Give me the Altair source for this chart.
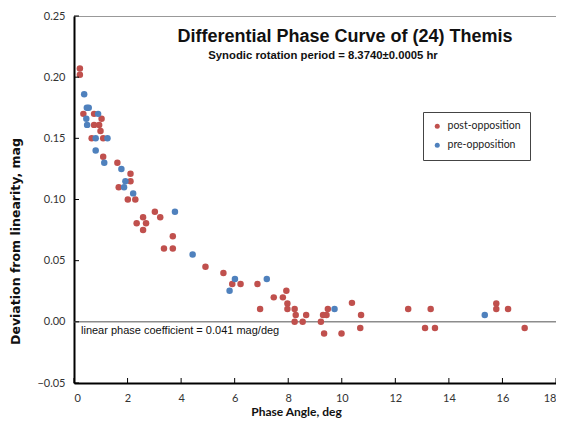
import altair as alt
import pandas as pd

# post-opposition (red)
post_x = [0.22, 0.22, 0.35, 0.75, 1.03, 0.75, 0.94, 0.99, 0.66, 1.09, 1.09, 1.62, 2.11, 2.11,
          1.67, 2.01, 2.29, 3.02, 2.58, 3.22, 2.34, 2.69, 2.58, 3.69, 3.36, 3.69, 4.91, 5.58,
          5.91, 6.22, 6.85, 6.95, 7.46, 7.80, 7.93, 7.97, 7.97, 8.24, 8.28, 8.24, 8.67, 8.54,
          9.22, 9.30, 9.43, 9.48, 9.34, 9.99, 10.38, 10.72, 10.69, 12.48, 13.32, 13.11, 13.48,
          15.77, 15.77, 16.21, 16.83]
post_y = [0.207, 0.202, 0.170, 0.170, 0.166, 0.161, 0.161, 0.156, 0.150, 0.150, 0.135, 0.130, 0.121, 0.115,
          0.110, 0.100, 0.100, 0.090, 0.0855, 0.0855, 0.0805, 0.0805, 0.075, 0.070, 0.060, 0.060, 0.045, 0.040,
          0.031, 0.031, 0.031, 0.0105, 0.020, 0.020, 0.0255, 0.015, 0.0105, 0.0105, 0.0055, 0.000, 0.0055, 0.000,
          0.000, 0.0055, 0.0055, 0.0105, -0.0095, -0.0095, 0.0155, 0.0055, -0.005, 0.0105, 0.0105, -0.005, -0.005,
          0.015, 0.0105, 0.0105, -0.005]

# pre-opposition (blue)
pre_x = [0.38, 0.48, 0.55, 0.90, 0.46, 0.49, 0.81, 1.25, 0.81, 1.13, 1.77, 1.92, 1.87, 2.21,
         3.77, 4.43, 6.01, 5.81, 7.20, 9.73, 15.34]
pre_y = [0.186, 0.175, 0.175, 0.170, 0.166, 0.161, 0.150, 0.150, 0.140, 0.130, 0.125, 0.115, 0.110, 0.105,
         0.090, 0.055, 0.035, 0.0255, 0.035, 0.0105, 0.0055]

series_names = ["post-opposition", "pre-opposition"]
series_colors = ["#C0504D", "#4F81BD"]
x_ticks = [0, 2, 4, 6, 8, 10, 12, 14, 16, 18]
y_ticks = [-0.05, 0.0, 0.05, 0.10, 0.15, 0.20, 0.25]

title_text = "Differential Phase Curve of (24) Themis"
subtitle_text = "Synodic rotation period = 8.3740\u00b10.0005 hr"
note_text = "linear phase coefficient = 0.041 mag/deg"

df = pd.concat([
    pd.DataFrame({"x": post_x, "y": post_y, "s": series_names[0]}),
    pd.DataFrame({"x": pre_x, "y": pre_y, "s": series_names[1]}),
])

W, H = 482, 367

xs = alt.Scale(domain=[0, 18], nice=False, zero=False)
ys = alt.Scale(domain=[-0.05, 0.25], nice=False, zero=False)

zero = alt.Chart(pd.DataFrame({"y": [0.0]})).mark_rule(color="#8c8c8c", strokeWidth=1.5).encode(
    y=alt.Y("y:Q", scale=ys))

points = alt.Chart(df).mark_circle(size=42, opacity=1).encode(
    x=alt.X("x:Q", scale=xs,
            axis=alt.Axis(values=x_ticks, format="d", title="Phase Angle, deg",
                          titleX=222, titleY=23, titleBaseline="top")),
    y=alt.Y("y:Q", scale=ys,
            axis=alt.Axis(values=y_ticks, format=".2f", title="Deviation from linearity, mag",
                          titleX=-59, titleY=225, titleBaseline="middle", titleAngle=-90,
                          titleFont="DejaVu Sans", titleFontSize=12.5)),
    color=alt.Color("s:N", scale=alt.Scale(domain=series_names, range=series_colors),
                    legend=alt.Legend(title=None, orient="none", legendX=349, legendY=96,
                                      strokeColor="#444444", fillColor="white", padding=9,
                                      symbolType="circle", symbolSize=25, labelFont="Lato",
                                      labelFontSize=10.5, labelColor="#222", rowPadding=8,
                                      labelOffset=5)),
    order=alt.Order("s:N", sort="ascending"),
)

xt = alt.Chart(pd.DataFrame({"x": x_ticks})).mark_rule(color="#000", strokeWidth=1).encode(
    x=alt.X("x:Q", scale=xs), y=alt.value(H - 5), y2=alt.value(H))
yt = alt.Chart(pd.DataFrame({"y": y_ticks})).mark_rule(color="#000", strokeWidth=1).encode(
    y=alt.Y("y:Q", scale=ys), x=alt.value(0), x2=alt.value(5))

title = alt.Chart(pd.DataFrame({"t": [title_text]})).mark_text(
    font="Liberation Sans", fontWeight="bold", fontSize=18, color="#111", align="center",
    baseline="middle").encode(text="t:N", x=alt.value(271), y=alt.value(21))
subtitle = alt.Chart(pd.DataFrame({"t": [subtitle_text]})).mark_text(
    font="Liberation Sans", fontWeight="bold", fontSize=11.3, color="#111", align="center",
    baseline="middle").encode(text="t:N", x=alt.value(249), y=alt.value(40))
note = alt.Chart(pd.DataFrame({"t": [note_text]})).mark_text(
    font="Liberation Sans", fontSize=11, color="#111", align="left",
    baseline="alphabetic").encode(text="t:N", x=alt.value(7), y=alt.value(318))

chart = alt.layer(zero, points, xt, yt, title, subtitle, note).properties(
    width=W, height=H,
    autosize=alt.AutoSizeParams(type="none"),
    padding={"left": 66, "top": 8, "right": 0, "bottom": 37},
).configure_view(stroke="#999999", strokeWidth=1).configure_axis(
    domainColor="#000", domainWidth=2, ticks=False, grid=False,
    labelFont="Lato", labelFontSize=11, labelColor="#333", labelPadding=9,
    titleFont="Lato", titleFontSize=12, titleFontWeight="bold", titleColor="#111",
)

chart.save("out.html", embed_options={"renderer": "svg", "actions": False})
